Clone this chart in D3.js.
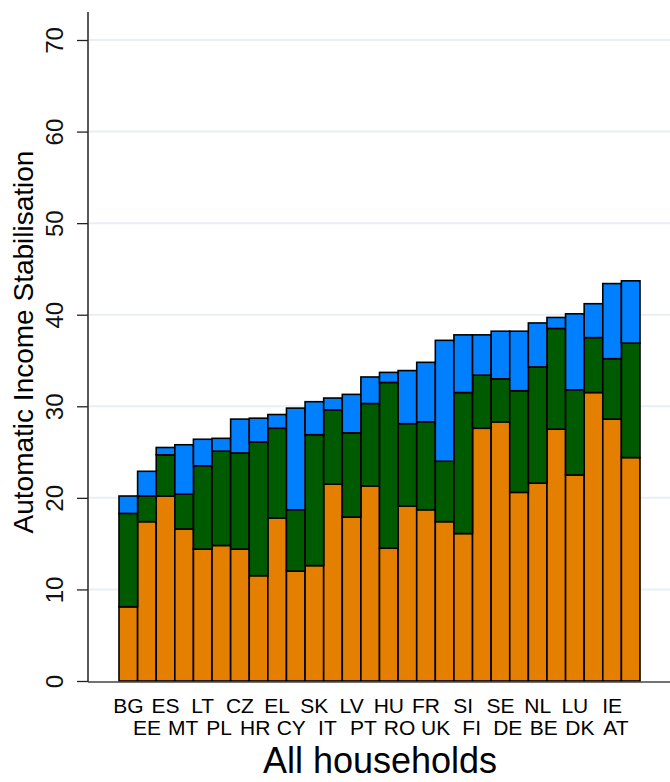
<!DOCTYPE html>
<html>
<head>
<meta charset="utf-8">
<script src="https://cdn.jsdelivr.net/npm/d3@7"></script>
<style>
  html, body { margin: 0; padding: 0; background: #fff; }
  svg { display: block; font-family: Arial, "Liberation Sans", sans-serif; }
</style>
</head>
<body>
<svg id="chart" width="670" height="782"></svg>
<script>
// Countries, ordered by total stabilisation
const countries = ["BG","EE","ES","MT","LT","PL","CZ","HR","EL","CY","SK","IT","LV","PT",
                   "HU","RO","FR","UK","SI","FI","SE","DE","NL","BE","LU","DK","IE","AT"];

// Stacked components (bottom to top)
const taxes        = [8.1,17.4,20.2,16.6,14.4,14.8,14.4,11.5,17.8,12.0,12.6,21.5,17.9,21.3,
                      14.5,19.1,18.7,17.4,16.1,27.6,28.3,20.6,21.6,27.5,22.5,31.5,28.6,24.4];
const contributions= [10.2,2.8,4.5,3.8,9.1,10.3,10.5,14.6,9.8,6.7,14.3,8.1,9.2,9.0,
                      18.1,9.0,9.6,6.6,15.4,5.8,4.7,11.1,12.7,11.0,9.3,6.0,6.6,12.5];
const benefits     = [1.9,2.7,0.8,5.4,2.9,1.4,3.7,2.6,1.5,11.1,3.6,1.3,4.2,2.9,
                      1.1,5.8,6.5,13.2,6.3,4.4,5.2,6.5,4.8,1.2,8.3,3.7,8.2,6.8];

const yTicks = [0,10,20,30,40,50,60,70];
const gridTicks = [10,20,30,40,50,60,70];
const seriesKeys = ["taxes","contributions","benefits"];
const seriesColors = ["#e57f00","#005a00","#0080ff"];
const xTitle = "All households";
const yTitle = "Automatic Income Stabilisation";

const svg = d3.select("#chart");
const W = 670;
const axisX = 88, baseY = 681;

const x = d3.scaleBand().domain(countries).range([119, 640]).padding(0);
const y = d3.scaleLinear().domain([0, 70]).range([baseY, 40]);

// gridlines
svg.append("g").selectAll("line").data(gridTicks).join("line")
  .attr("x1", axisX + 1).attr("x2", W)
  .attr("y1", d => y(d)).attr("y2", d => y(d))
  .attr("stroke", "#eaeff4").attr("stroke-width", 2);

// stacked bars
const table = countries.map((c, i) => ({
  country: c, taxes: taxes[i], contributions: contributions[i], benefits: benefits[i]
}));
const stacked = d3.stack().keys(seriesKeys)(table);

svg.append("g").selectAll("g").data(stacked).join("g")
  .attr("fill", (d, i) => seriesColors[i])
  .selectAll("rect").data(d => d).join("rect")
  .attr("x", d => x(d.data.country))
  .attr("width", x.bandwidth())
  .attr("y", d => y(d[1]))
  .attr("height", d => y(d[0]) - y(d[1]))
  .attr("stroke", "#000").attr("stroke-width", 1.6);

// y axis
const yAxis = svg.append("g").attr("transform", `translate(${axisX},0)`)
  .call(d3.axisLeft(y).tickValues(yTicks).tickSize(11).tickSizeOuter(0));
yAxis.select(".domain").remove();
yAxis.append("line").attr("x1", 0).attr("x2", 0).attr("y1", 12).attr("y2", baseY + 1)
  .attr("stroke", "#222").attr("stroke-width", 1.5);
yAxis.selectAll(".tick line").attr("stroke", "#222").attr("stroke-width", 1.3);
yAxis.selectAll(".tick text")
  .attr("x", null).attr("dy", null)
  .attr("transform", "translate(-25,0) rotate(-90)")
  .attr("text-anchor", "middle")
  .attr("fill", "#111").style("font-size", "24px");

// x axis baseline
svg.append("line").attr("x1", axisX).attr("x2", W)
  .attr("y1", baseY + 1).attr("y2", baseY + 1)
  .attr("stroke", "#444").attr("stroke-width", 1.5);

// country labels, alternating rows; the lower row is set a little tighter
const topRow = countries.filter((d, i) => i % 2 === 0);
const lowRow = countries.filter((d, i) => i % 2 === 1);
const xLow = d3.scalePoint().domain(lowRow).range([147, 616]);

svg.append("g").selectAll("text").data(topRow).join("text")
  .attr("x", d => x(d) + x.bandwidth() / 2)
  .attr("y", 713)
  .attr("text-anchor", "middle")
  .style("font-size", "21px").attr("fill", "#000")
  .text(d => d);
svg.append("g").selectAll("text").data(lowRow).join("text")
  .attr("x", d => xLow(d))
  .attr("y", 735)
  .attr("text-anchor", "middle")
  .style("font-size", "21px").attr("fill", "#000")
  .text(d => d);

// axis titles
svg.append("text").attr("x", 380).attr("y", 773)
  .attr("text-anchor", "middle").style("font-size", "36px").attr("fill", "#000")
  .text(xTitle);
svg.append("text").attr("transform", "translate(33,342) rotate(-90)")
  .attr("text-anchor", "middle").style("font-size", "28px").attr("fill", "#000")
  .text(yTitle);
</script>
</body>
</html>
